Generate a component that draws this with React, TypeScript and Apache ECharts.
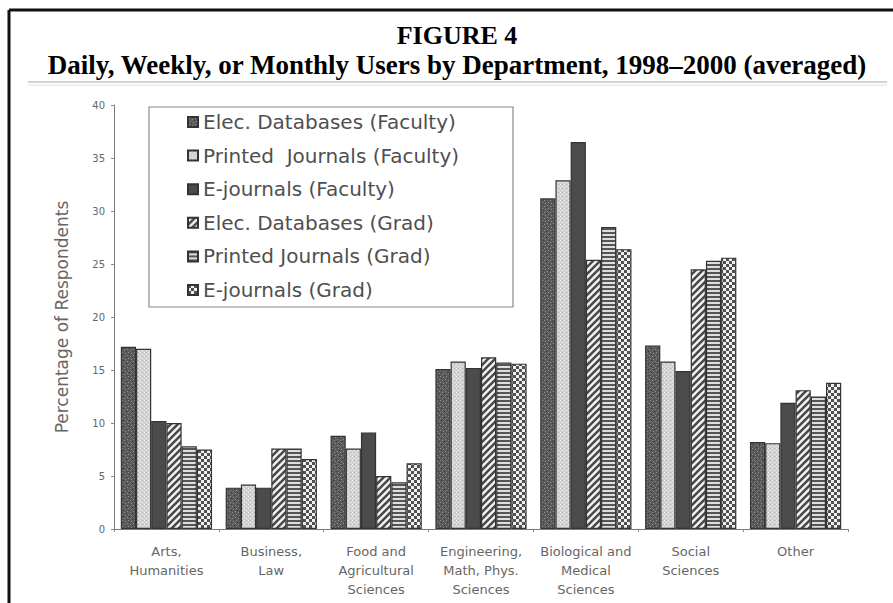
import React, { useEffect, useRef } from "react";
import * as echarts from "echarts";

const categories = [
  "Arts,\nHumanities",
  "Business,\nLaw",
  "Food and\nAgricultural\nSciences",
  "Engineering,\nMath, Phys.\nSciences",
  "Biological and\nMedical\nSciences",
  "Social\nSciences",
  "Other",
];

const seriesNames = [
  "Elec. Databases (Faculty)",
  "Printed  Journals (Faculty)",
  "E-journals (Faculty)",
  "Elec. Databases (Grad)",
  "Printed Journals (Grad)",
  "E-journals (Grad)",
];

const elecDbFaculty = [17.2, 3.9, 8.8, 15.1, 31.2, 17.3, 8.2];
const printedFaculty = [17.0, 4.2, 7.6, 15.8, 32.9, 15.8, 8.1];
const ejFaculty = [10.2, 3.9, 9.1, 15.2, 36.5, 14.9, 11.9];
const elecDbGrad = [10.0, 7.6, 5.0, 16.2, 25.4, 24.5, 13.1];
const printedGrad = [7.8, 7.6, 4.4, 15.7, 28.5, 25.3, 12.5];
const ejGrad = [7.5, 6.6, 6.2, 15.6, 26.4, 25.6, 13.8];

const yTicks = { min: 0, max: 40, interval: 5 };

function makeTile(kind: number): any {
  const c = document.createElement("canvas");
  const ctx = c.getContext("2d") as CanvasRenderingContext2D;
  if (kind === 0) {
    c.width = 6; c.height = 6;
    ctx.fillStyle = "#5a5a5a"; ctx.fillRect(0, 0, 6, 6);
    ctx.fillStyle = "#8c8c8c";
    ctx.fillRect(1, 1, 1, 1); ctx.fillRect(4, 2, 1, 1); ctx.fillRect(2, 4, 1, 1); ctx.fillRect(5, 5, 1, 1);
    ctx.fillStyle = "#3c3c3c";
    ctx.fillRect(3, 0, 1, 1); ctx.fillRect(0, 3, 1, 1);
  } else if (kind === 1) {
    c.width = 4; c.height = 4;
    ctx.fillStyle = "#d2d2d2"; ctx.fillRect(0, 0, 4, 4);
    ctx.fillStyle = "#f2f2f2";
    ctx.fillRect(0, 0, 1, 1); ctx.fillRect(2, 2, 1, 1);
    ctx.fillStyle = "#b4b4b4";
    ctx.fillRect(2, 0, 1, 1);
  } else if (kind === 2) {
    c.width = 4; c.height = 4;
    ctx.fillStyle = "#4b4b4b"; ctx.fillRect(0, 0, 4, 4);
  } else if (kind === 3) {
    c.width = 7; c.height = 7;
    ctx.fillStyle = "#f4f4f4"; ctx.fillRect(0, 0, 7, 7);
    ctx.strokeStyle = "#4a4a4a"; ctx.lineWidth = 2.6;
    ctx.beginPath();
    ctx.moveTo(-1, 8); ctx.lineTo(8, -1);
    ctx.moveTo(-2, 2); ctx.lineTo(2, -2);
    ctx.moveTo(5, 9); ctx.lineTo(9, 5);
    ctx.stroke();
  } else if (kind === 4) {
    c.width = 4; c.height = 4;
    ctx.fillStyle = "#dedede"; ctx.fillRect(0, 0, 4, 4);
    ctx.fillStyle = "#555555"; ctx.fillRect(0, 0, 4, 2);
  } else {
    c.width = 6; c.height = 6;
    ctx.fillStyle = "#f0f0f0"; ctx.fillRect(0, 0, 6, 6);
    ctx.fillStyle = "#505050";
    ctx.fillRect(0, 0, 3, 3); ctx.fillRect(3, 3, 3, 3);
  }
  return { image: c, repeat: "repeat" };
}

export default function App() {
  const ref = useRef<HTMLDivElement>(null);
  useEffect(() => {
    if (!ref.current) return;
    const chart = echarts.init(ref.current, null, { renderer: "svg" });
    const dataSets = [elecDbFaculty, printedFaculty, ejFaculty, elecDbGrad, printedGrad, ejGrad];
    const series = dataSets.map((d, i) => ({
      name: seriesNames[i],
      type: "bar",
      data: d,
      barGap: "0%",
      barCategoryGap: "13%",
      itemStyle: { color: makeTile(i), borderColor: "#333333", borderWidth: 1.2 },
    }));
    chart.setOption({
      animation: false,
      backgroundColor: "#ffffff",
      textStyle: { fontFamily: "DejaVu Sans" },
      grid: { left: 114, right: 45, top: 105, bottom: 74 },
      legend: {
        orient: "vertical",
        left: 187,
        top: 112,
        padding: 0,
        itemWidth: 10,
        itemHeight: 10,
        itemGap: 13.6,
        icon: "rect",
        data: seriesNames,
        textStyle: { fontFamily: "DejaVu Sans", fontSize: 20, color: "#4f4f4f", lineHeight: 20 },
      },
      xAxis: {
        type: "category",
        data: categories,
        axisLine: { lineStyle: { color: "#7a7a7a", width: 1 } },
        axisTick: { show: true, length: 3, lineStyle: { color: "#8a8a8a" } },
        axisLabel: { fontSize: 13, lineHeight: 19, color: "#666666", margin: 13, interval: 0 },
      },
      yAxis: {
        type: "value",
        min: yTicks.min,
        max: yTicks.max,
        interval: yTicks.interval,
        name: "Percentage of Respondents",
        nameLocation: "middle",
        nameRotate: 90,
        nameGap: 44,
        nameTextStyle: { fontSize: 17, color: "#666666", fontFamily: "DejaVu Sans" },
        axisLine: { show: true, lineStyle: { color: "#7a7a7a", width: 1 } },
        axisTick: { show: true, length: 3, lineStyle: { color: "#8a8a8a" } },
        splitLine: { show: false },
        axisLabel: { fontSize: 10, color: "#666666", margin: 9 },
      },
      series,
      graphic: [
        { type: "line", shape: { x1: 9, y1: 10, x2: 893, y2: 10 }, style: { stroke: "#111", lineWidth: 3 } },
        { type: "line", shape: { x1: 9, y1: 10, x2: 9, y2: 603 }, style: { stroke: "#111", lineWidth: 3 } },
        { type: "line", shape: { x1: 28, y1: 82, x2: 887, y2: 82 }, style: { stroke: "#a8a8a8", lineWidth: 1 } },
        { type: "line", shape: { x1: 28, y1: 85, x2: 887, y2: 85 }, style: { stroke: "#e0e0e0", lineWidth: 1 } },
        {
          type: "text", x: 457, y: 35,
          style: { text: "FIGURE 4", fontFamily: "Liberation Serif", fontWeight: "bold", fontSize: 26, fill: "#000", align: "center", verticalAlign: "middle" },
        },
        {
          type: "text", x: 457, y: 65,
          style: { text: "Daily, Weekly, or Monthly Users by Department, 1998\u20132000 (averaged)", fontFamily: "Liberation Serif", fontWeight: "bold", fontSize: 27, fill: "#000", align: "center", verticalAlign: "middle" },
        },
        { type: "rect", shape: { x: 149, y: 107, width: 364, height: 200 }, style: { fill: "none", stroke: "#8a8a8a", lineWidth: 1.2 } },
      ],
    });
    return () => chart.dispose();
  }, []);
  return <div ref={ref} style={{ position: "fixed", left: 0, top: 0, width: 893, height: 603, background: "#fff" }} />;
}
